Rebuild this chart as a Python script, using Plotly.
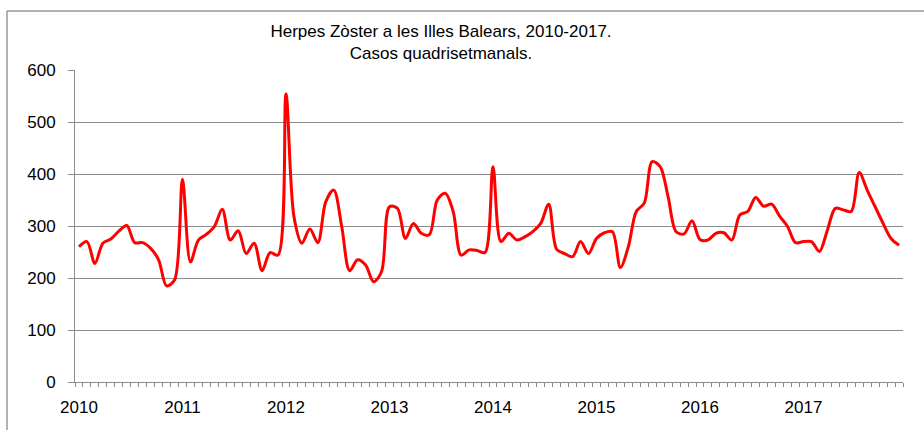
import plotly.graph_objects as go

years = ["2010", "2011", "2012", "2013", "2014", "2015", "2016", "2017"]
periods_per_year = 13

cases_2010 = [260, 270, 228, 267, 275, 290, 301, 268, 268, 257, 235, 185, 196]
cases_2011 = [390, 231, 273, 284, 299, 332, 273, 291, 247, 267, 214, 249, 244]
cases_2012 = [554, 318, 267, 294, 268, 347, 369, 299, 214, 235, 225, 193, 212]
cases_2013 = [337, 334, 276, 305, 286, 283, 350, 363, 328, 244, 254, 253, 249]
cases_2014 = [414, 270, 286, 273, 279, 289, 305, 342, 255, 247, 241, 270, 247]
cases_2015 = [276, 287, 289, 220, 260, 328, 344, 424, 414, 356, 289, 285, 310]
cases_2016 = [274, 273, 286, 287, 273, 321, 328, 355, 338, 342, 319, 299, 268]
cases_2017 = [270, 270, 251, 292, 334, 331, 328, 403, 369, 337, 305, 276, 263]

values = (cases_2010 + cases_2011 + cases_2012 + cases_2013 +
          cases_2014 + cases_2015 + cases_2016 + cases_2017)
x = list(range(len(values)))

y_ticks = [0, 100, 200, 300, 400, 500, 600]

grey = "#8c8c8c"
font_family = "Liberation Sans, Arial, sans-serif"

fig = go.Figure()
fig.add_trace(go.Scatter(
    x=x, y=values, mode="lines",
    line=dict(color="#ff0000", width=3, shape="spline", smoothing=0.9),
    hoverinfo="skip", showlegend=False,
))

fig.update_layout(
    width=924, height=430,
    margin=dict(l=75, r=21, t=70, b=48),
    paper_bgcolor="white", plot_bgcolor="white",
    font=dict(family=font_family, color="#000000"),
    title=dict(
        text="Herpes Zòster a les Illes Balears, 2010-2017.<br>Casos quadrisetmanals.",
        x=441 / 924, xanchor="center", xref="container",
        y=1 - 37 / 430, yanchor="middle", yref="container",
        font=dict(size=17, family=font_family, color="#000000"),
    ),
    xaxis=dict(
        range=[-0.5, len(values) - 0.5],
        tickmode="array",
        tickvals=[i * periods_per_year for i in range(len(years))],
        ticktext=years,
        ticks="",
        ticklabelstandoff=10,
        showgrid=False, zeroline=False,
        showline=True, linecolor=grey, linewidth=1,
        tickfont=dict(size=17),
        minor=dict(ticks="outside", tick0=-0.5, dtick=1, ticklen=4,
                   tickcolor=grey, tickwidth=1, showgrid=False),
    ),
    yaxis=dict(
        range=[0, 600],
        tickmode="array", tickvals=y_ticks,
        ticks="outside", ticklen=6, tickcolor=grey, tickwidth=1,
        ticklabelstandoff=9,
        showgrid=True, gridcolor=grey, gridwidth=1,
        zeroline=False,
        showline=True, linecolor=grey, linewidth=1,
        tickfont=dict(size=17),
    ),
    shapes=[
        dict(type="line", xref="paper", yref="paper",
             x0=(7 - 75) / 828, x1=(930 - 75) / 828,
             y0=(382 - 11) / 312, y1=(382 - 11) / 312,
             line=dict(color="#999999", width=1.5)),
        dict(type="line", xref="paper", yref="paper",
             x0=(7 - 75) / 828, x1=(7 - 75) / 828,
             y0=(382 - 11) / 312, y1=(382 - 440) / 312,
             line=dict(color="#999999", width=1.5)),
    ],
)

fig.write_html(
    "out.html",
    config={"displayModeBar": False},
    post_script="document.body.style.margin='0';document.body.style.overflow='hidden';",
)
